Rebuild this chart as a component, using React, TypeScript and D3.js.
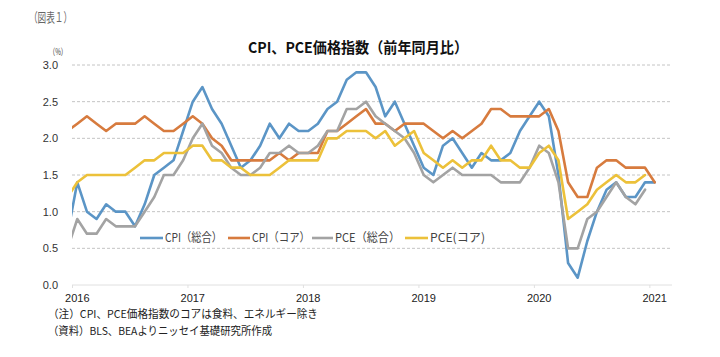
import React from "react";
import * as d3 from "d3";

// Monthly YoY (%), first value = Dec 2015, index 0 = Jan 2016
const cpi = [0.7,
  1.4, 1.0, 0.9, 1.1, 1.0, 1.0, 0.8, 1.1, 1.5, 1.6, 1.7, 2.1,
  2.5, 2.7, 2.4, 2.2, 1.9, 1.6, 1.7, 1.9, 2.2, 2.0, 2.2, 2.1,
  2.1, 2.2, 2.4, 2.5, 2.8, 2.9, 2.9, 2.7, 2.3, 2.5, 2.2, 1.9,
  1.6, 1.5, 1.9, 2.0, 1.8, 1.6, 1.8, 1.7, 1.7, 1.8, 2.1, 2.3,
  2.5, 2.3, 1.5, 0.3, 0.1, 0.6, 1.0, 1.3, 1.4, 1.2, 1.2, 1.4,
  1.4];
const cpiCore = [2.1,
  2.2, 2.3, 2.2, 2.1, 2.2, 2.2, 2.2, 2.3, 2.2, 2.1, 2.1, 2.2,
  2.3, 2.2, 2.0, 1.9, 1.7, 1.7, 1.7, 1.7, 1.7, 1.8, 1.7, 1.8,
  1.8, 1.8, 2.1, 2.1, 2.2, 2.3, 2.4, 2.2, 2.2, 2.1, 2.2, 2.2,
  2.2, 2.1, 2.0, 2.1, 2.0, 2.1, 2.2, 2.4, 2.4, 2.3, 2.3, 2.3,
  2.3, 2.4, 2.1, 1.4, 1.2, 1.2, 1.6, 1.7, 1.7, 1.6, 1.6, 1.6,
  1.4];
const pce = [0.5,
  0.9, 0.7, 0.7, 0.9, 0.8, 0.8, 0.8, 1.0, 1.2, 1.5, 1.5, 1.7,
  2.0, 2.2, 1.9, 1.8, 1.6, 1.5, 1.5, 1.6, 1.8, 1.8, 1.9, 1.8,
  1.8, 1.9, 2.1, 2.1, 2.4, 2.4, 2.5, 2.3, 2.2, 2.1, 2.0, 1.8,
  1.5, 1.4, 1.5, 1.6, 1.5, 1.5, 1.5, 1.5, 1.4, 1.4, 1.4, 1.6,
  1.9, 1.8, 1.4, 0.5, 0.5, 0.9, 1.0, 1.2, 1.4, 1.2, 1.1, 1.3];
const pceCore = [1.2,
  1.4, 1.5, 1.5, 1.5, 1.5, 1.5, 1.6, 1.7, 1.7, 1.8, 1.8, 1.8,
  1.9, 1.9, 1.7, 1.7, 1.6, 1.6, 1.5, 1.5, 1.5, 1.6, 1.7, 1.7,
  1.7, 1.7, 2.0, 2.0, 2.1, 2.1, 2.1, 2.0, 2.1, 1.9, 2.0, 2.1,
  1.8, 1.7, 1.6, 1.7, 1.6, 1.7, 1.7, 1.9, 1.7, 1.7, 1.6, 1.6,
  1.8, 1.9, 1.7, 0.9, 1.0, 1.1, 1.3, 1.4, 1.5, 1.4, 1.4, 1.5];

const seriesNames = ["CPI（総合）", "CPI（コア）", "PCE（総合）", "PCE(コア)"];
const seriesData = [cpi, cpiCore, pce, pceCore];
const colors = ["#5b95c6", "#d77b3e", "#a3a3a3", "#ecc13a"];
const yTicks = [0, 0.5, 1.0, 1.5, 2.0, 2.5, 3.0];
const yearLabels = ["2016", "2017", "2018", "2019", "2020", "2021"];

const title = "CPI、PCE価格指数（前年同月比）";
const figLabel = "（図表１）";
const unitLabel = "（%）";
const note1 = "（注）CPI、PCE価格指数のコアは食料、エネルギー除き";
const note2 = "（資料）BLS、BEAよりニッセイ基礎研究所作成";

const JP = "'Noto Sans CJK JP', 'Noto Sans', sans-serif";
const NUM = "'Liberation Sans', Arial, sans-serif";

export default function App() {
  const W = 720, H = 357;
  const x = d3.scaleLinear().domain([-0.55, 61.8]).range([72, 672]);
  const y = d3.scaleLinear().domain([0, 3]).range([285, 65]);
  const line = d3.line<number>()
    .x((_, i) => x(i - 1))
    .y((d) => y(d))
    .curve(d3.curveLinear);

  const legendX = [140, 228, 312, 405];
  const legendLen = [23, 22, 21, 23];
  const legendTextW = [57, 58, 65, 55];

  return (
    <svg width={W} height={H} style={{ position: "absolute", left: 0, top: 0, background: "#fff" }}>
      <defs>
        <clipPath id="plotclip">
          <rect x={72} y={40} width={600} height={260} />
        </clipPath>
      </defs>
      <rect x={0} y={0} width={W} height={H} fill="#fff" />
      <text x={29} y={22} fontFamily={JP} fontSize={13} fill="#666" textLength={43} lengthAdjust="spacingAndGlyphs">{figLabel}</text>
      <text x={248} y={53} fontFamily={JP} fontSize={15} fontWeight={700} fill="#111" textLength={220} lengthAdjust="spacingAndGlyphs">{title}</text>
      <text x={49} y={55} fontFamily={JP} fontSize={9} fill="#333" textLength={18} lengthAdjust="spacingAndGlyphs">{unitLabel}</text>

      {yTicks.map((t) => (
        <g key={t}>
          {t > 0 && (
            <line x1={72} x2={672} y1={y(t)} y2={y(t)} stroke="#c4c4c4" strokeWidth={1} strokeDasharray="3,2" />
          )}
          <text x={58} y={y(t) + 4} textAnchor="end" fontFamily={NUM} fontSize={11} fill="#333">{t.toFixed(1)}</text>
        </g>
      ))}
      <line x1={72} x2={672} y1={y(0)} y2={y(0)} stroke="#e0e0e0" strokeWidth={1} />
      {yearLabels.map((lab, k) => (
        <g key={lab}>
          <line x1={x(12 * k - 0.5)} x2={x(12 * k - 0.5)} y1={y(0)} y2={y(0) + 3} stroke="#e0e0e0" />
          <text x={x(12 * k)} y={302} textAnchor="middle" fontFamily={NUM} fontSize={11} fill="#222">{lab}</text>
        </g>
      ))}

      <g clipPath="url(#plotclip)">
        {seriesData.map((s, i) => (
          <path key={i} d={line(s) || ""} fill="none" stroke={colors[i]} strokeWidth={2.6} strokeLinejoin="round" strokeLinecap="round" />
        ))}
      </g>

      {seriesNames.map((n, i) => (
        <g key={n}>
          <line x1={legendX[i]} x2={legendX[i] + legendLen[i]} y1={238} y2={238} stroke={colors[i]} strokeWidth={2.6} />
          <text x={legendX[i] + legendLen[i] + 2} y={242} fontFamily={JP} fontSize={12} fill="#444" textLength={legendTextW[i]} lengthAdjust="spacingAndGlyphs">{n}</text>
        </g>
      ))}

      <text x={48} y={318} fontFamily={JP} fontSize={11} fill="#222" textLength={270} lengthAdjust="spacingAndGlyphs">{note1}</text>
      <text x={48} y={335} fontFamily={JP} fontSize={11} fill="#222" textLength={224} lengthAdjust="spacingAndGlyphs">{note2}</text>
    </svg>
  );
}
